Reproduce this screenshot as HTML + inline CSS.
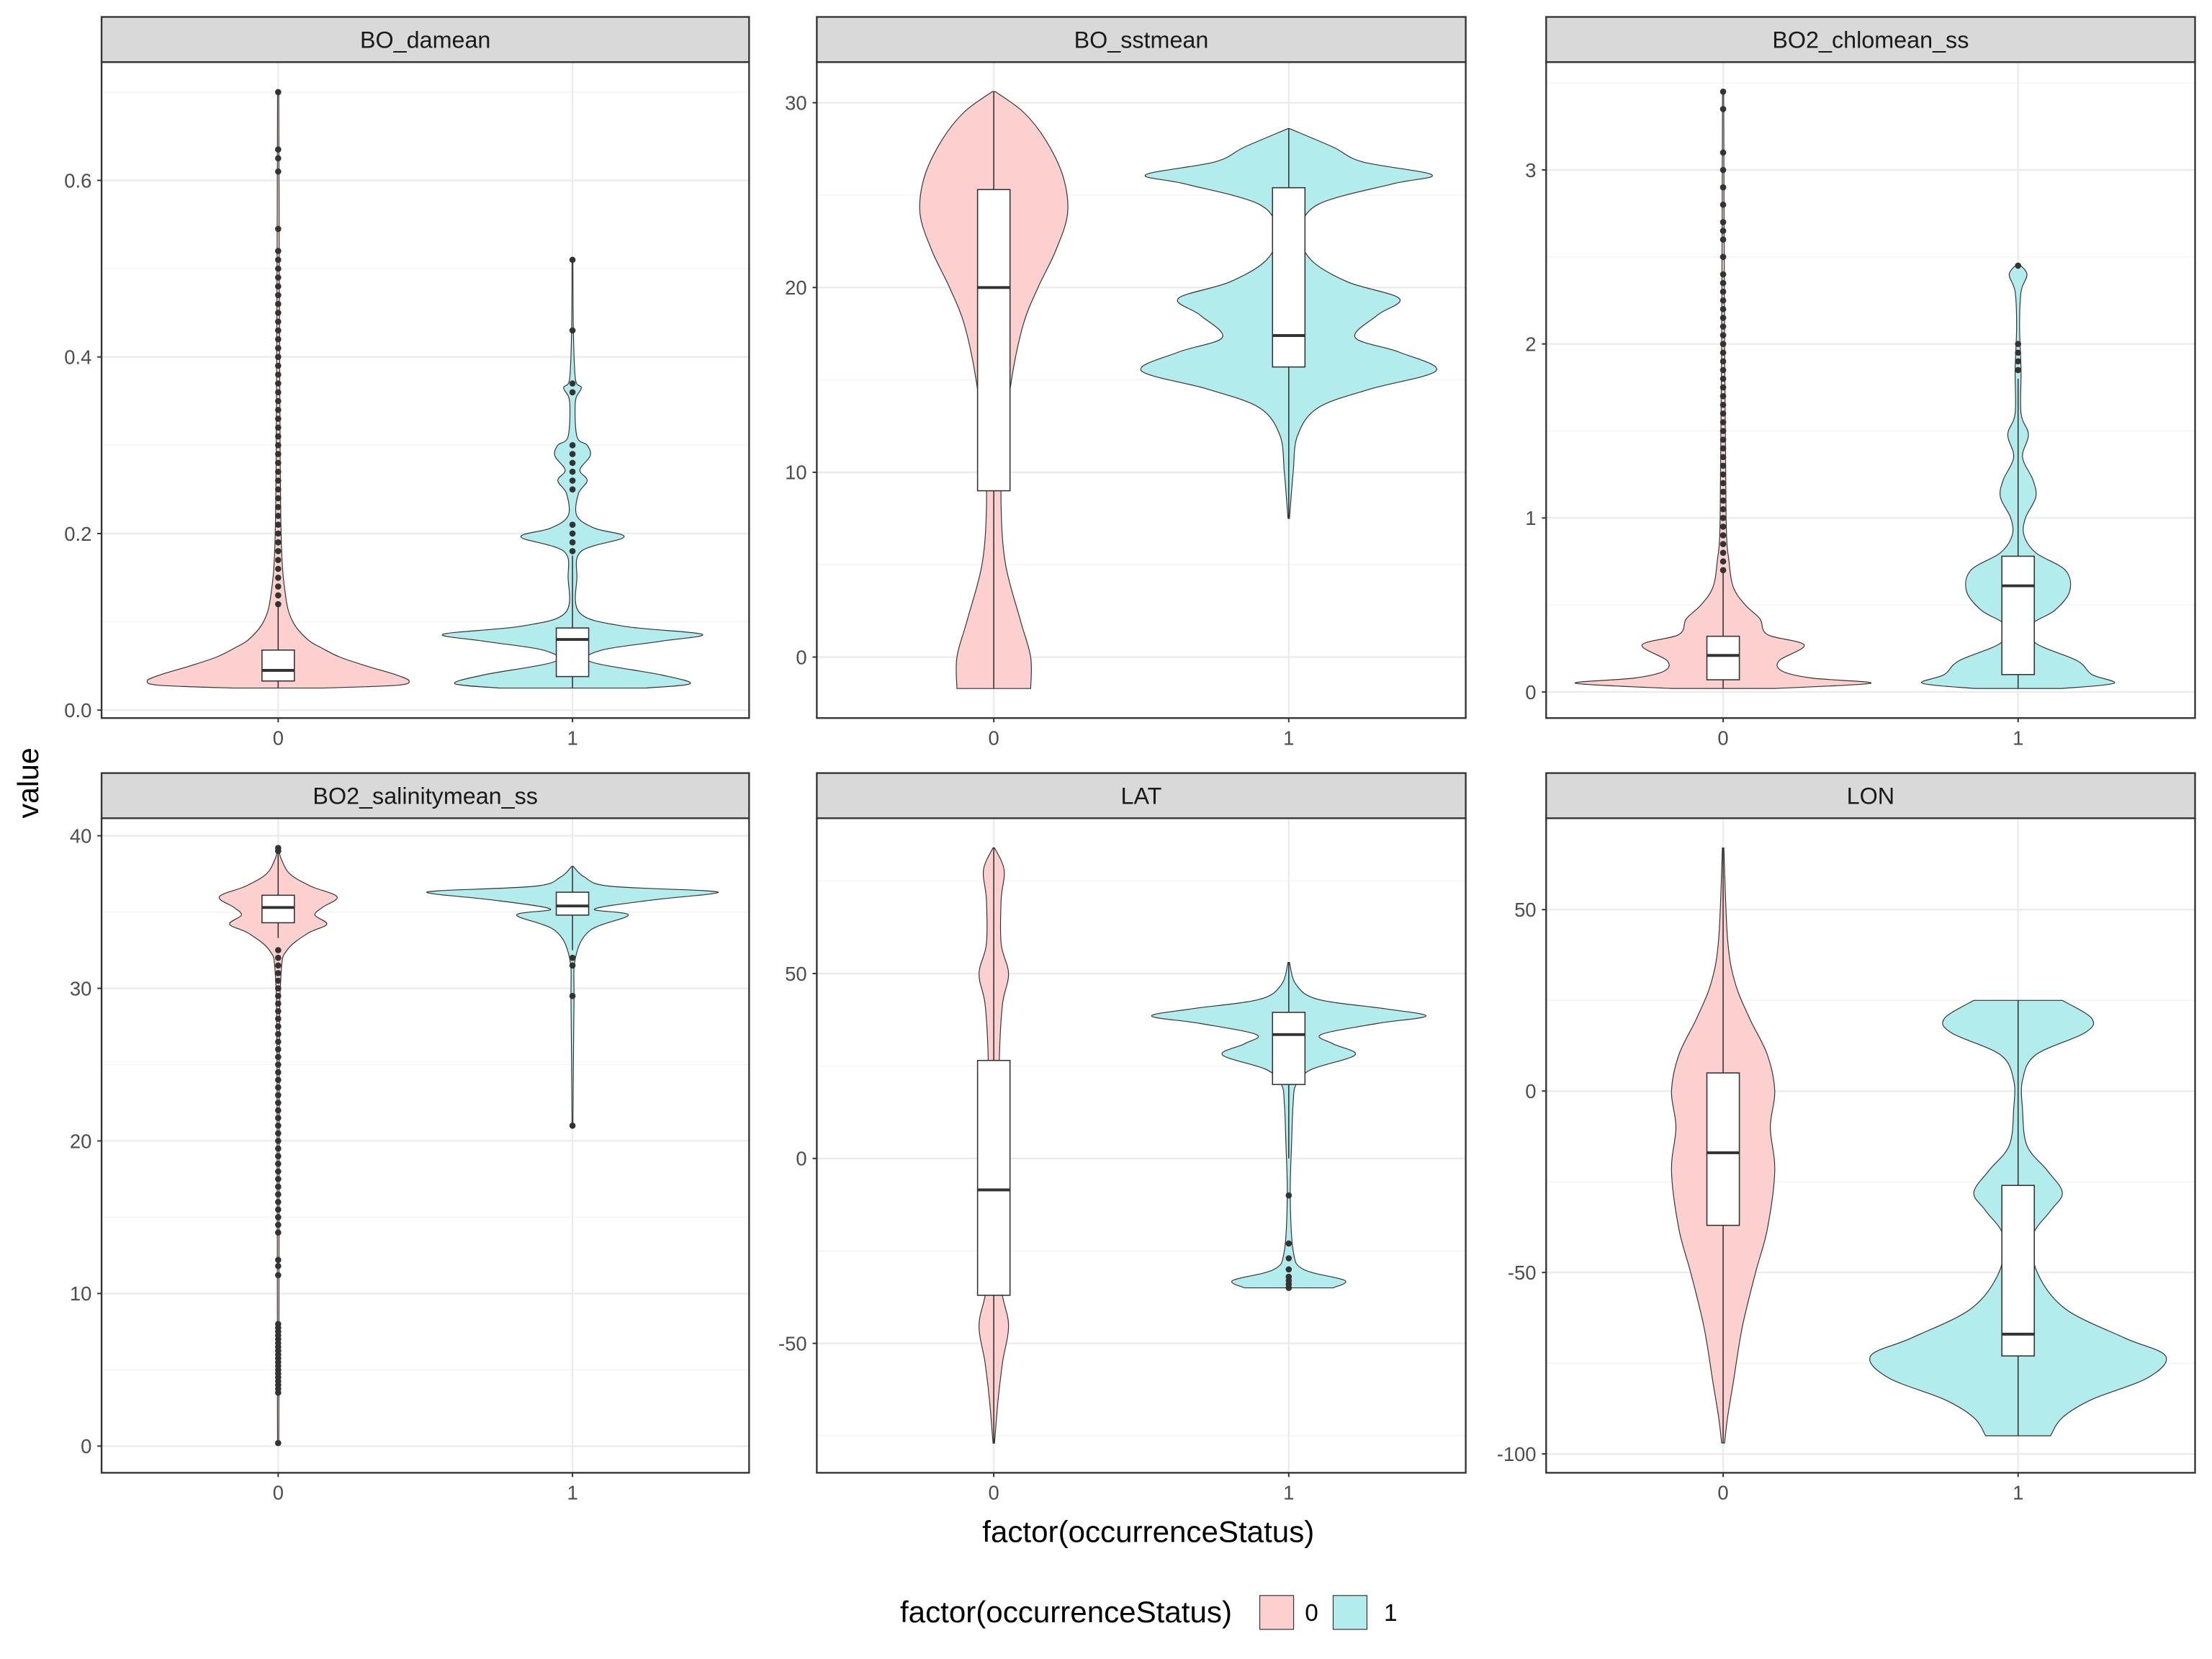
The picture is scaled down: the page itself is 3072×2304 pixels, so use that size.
<!DOCTYPE html>
<html><head><meta charset="utf-8"><style>
html,body{margin:0;padding:0;background:#fff}
svg{display:block}
text{font-family:"Liberation Sans",sans-serif}
</style></head><body>
<svg id="chart" width="3072" height="2304" viewBox="0 0 1568 1176" xmlns="http://www.w3.org/2000/svg">
<rect x="0" y="0" width="1568" height="1176" fill="#fff"/>
<g id="panels"></g>
<text x="27" y="555" transform="rotate(-90 27 555)" text-anchor="middle" font-size="21" fill="#000">value</text>
<text x="814" y="1093" text-anchor="middle" font-size="21.5" fill="#000">factor(occurrenceStatus)</text>
<g>
<text x="638" y="1150" font-size="21.5" fill="#000">factor(occurrenceStatus)</text>
<rect x="893" y="1131" width="24" height="24" fill="#FBD0CE" stroke="#333" stroke-width="0.6"/>
<text x="925" y="1149" font-size="17" fill="#000">0</text>
<rect x="945" y="1131" width="24" height="24" fill="#B2ECED" stroke="#333" stroke-width="0.6"/>
<text x="981" y="1149" font-size="17" fill="#000">1</text>
</g>
</svg>
<script>
const panelTitles = ["BO_damean","BO_sstmean","BO2_chlomean_ss","BO2_salinitymean_ss","LAT","LON"];
const panelDomains = [[-0.009,0.734],[-3.3,32.2],[-0.15,3.62],[-1.75,41.15],[-85,92],[-105.2,75.2]];
const panelTicks = [[0,0.2,0.4,0.6],[0,10,20,30],[0,1,2,3],[0,10,20,30,40],[-50,0,50],[-100,-50,0,50]];
const panelTickLabels = [["0.0","0.2","0.4","0.6"],["0","10","20","30"],["0","1","2","3"],["0","10","20","30","40"],["-50","0","50"],["-100","-50","0","50"]];
const categories = ["0","1"];
// violin density profiles: [value, relative half-width]
const violin0 = [
 [[0.025,0.3],[0.028,0.8],[0.033,0.89],[0.04,0.8],[0.05,0.6],[0.06,0.42],[0.07,0.3],[0.08,0.2],[0.1,0.1],[0.13,0.05],[0.2,0.02],[0.4,0.01],[0.7,0.004]],
 [[-1.7,0.25],[0,0.25],[2,0.18],[5,0.08],[8,0.05],[11,0.06],[15,0.12],[18,0.2],[20,0.3],[22,0.42],[24,0.5],[26,0.47],[28,0.35],[29.5,0.2],[30.6,0.01]],
 [[0.02,0.35],[0.05,1.0],[0.08,0.6],[0.12,0.4],[0.18,0.38],[0.27,0.55],[0.33,0.3],[0.42,0.25],[0.5,0.15],[0.6,0.07],[0.75,0.04],[1,0.02],[2,0.01],[3.45,0.004]],
 [[0.2,0.003],[3,0.005],[25,0.008],[31,0.02],[32.5,0.06],[33.6,0.2],[34.2,0.33],[34.8,0.25],[35.3,0.3],[36,0.4],[36.7,0.22],[37.5,0.08],[38.5,0.02],[39.2,0.003]],
 [[-77,0.005],[-65,0.03],[-55,0.06],[-45,0.1],[-35,0.05],[-20,0.04],[-5,0.035],[15,0.035],[30,0.04],[42,0.06],[50,0.1],[58,0.05],[70,0.05],[78,0.07],[84,0.005]],
 [[-97,0.01],[-90,0.03],[-80,0.07],[-65,0.13],[-50,0.22],[-38,0.3],[-22,0.35],[-10,0.32],[0,0.35],[10,0.3],[20,0.18],[30,0.08],[42,0.03],[67,0.005]]
];
const violin1 = [
 [[0.025,0.5],[0.03,0.8],[0.04,0.6],[0.055,0.12],[0.068,0.2],[0.078,0.6],[0.086,0.88],[0.095,0.35],[0.11,0.05],[0.15,0.03],[0.18,0.06],[0.196,0.35],[0.206,0.15],[0.22,0.03],[0.245,0.04],[0.26,0.1],[0.272,0.05],[0.288,0.12],[0.3,0.1],[0.31,0.03],[0.35,0.02],[0.365,0.06],[0.375,0.02],[0.43,0.006],[0.51,0.003]],
 [[7.5,0.005],[10,0.03],[12,0.06],[13.5,0.2],[14.5,0.55],[15.5,1.0],[16.5,0.75],[17.3,0.45],[18.5,0.6],[19.4,0.75],[20.3,0.4],[21.5,0.15],[23,0.08],[24.5,0.2],[25.6,0.7],[26.1,0.97],[26.8,0.5],[27.6,0.3],[28.6,0.005]],
 [[0.02,0.3],[0.05,0.65],[0.1,0.5],[0.18,0.4],[0.28,0.12],[0.38,0.08],[0.47,0.25],[0.58,0.35],[0.7,0.32],[0.8,0.12],[0.9,0.04],[1.0,0.05],[1.12,0.12],[1.22,0.1],[1.35,0.03],[1.48,0.07],[1.6,0.02],[1.85,0.02],[2.1,0.01],[2.3,0.02],[2.4,0.06],[2.46,0.005]],
 [[21,0.003],[29,0.01],[32,0.02],[33.8,0.12],[34.8,0.38],[35.2,0.15],[35.8,0.55],[36.2,0.95],[36.4,0.9],[36.7,0.25],[37.3,0.08],[38,0.005]],
 [[-35,0.3],[-33,0.38],[-30,0.1],[-25,0.03],[-10,0.01],[5,0.02],[15,0.03],[20,0.05],[24,0.15],[28,0.45],[31,0.3],[33.5,0.22],[36.5,0.6],[38.5,0.93],[40.5,0.65],[43,0.2],[47,0.05],[53,0.005]],
 [[-95,0.22],[-90,0.3],[-85,0.5],[-79,0.88],[-73,1.0],[-68,0.72],[-60,0.32],[-50,0.13],[-40,0.1],[-33,0.22],[-28,0.3],[-22,0.2],[-15,0.06],[-5,0.03],[3,0.03],[10,0.12],[16,0.45],[20,0.5],[25,0.3]]
];
// box stats: [lowerWhisker, q1, median, q3, upperWhisker]
const box0 = [[0.025,0.033,0.045,0.068,0.12],[-1.7,9,20,25.3,30.6],[0.02,0.07,0.21,0.32,0.7],[33.3,34.3,35.3,36.1,38.8],[-77,-37,-8.5,26.5,84],[-97,-37,-17,5,67]];
const box1 = [[0.025,0.038,0.08,0.093,0.175],[7.5,15.7,17.4,25.4,28.6],[0.02,0.1,0.61,0.78,1.8],[32.5,34.8,35.4,36.3,38],[0,20,33.5,39.5,53],[-95,-73,-67,-26,25]];
const outliers0 = [
 [0.12,0.13,0.14,0.15,0.16,0.17,0.18,0.19,0.2,0.21,0.22,0.23,0.24,0.25,0.26,0.27,0.28,0.29,0.3,0.31,0.32,0.33,0.34,0.35,0.36,0.37,0.38,0.39,0.4,0.41,0.42,0.43,0.44,0.45,0.46,0.47,0.48,0.49,0.5,0.51,0.52,0.545,0.61,0.625,0.635,0.7],
 [],
 [0.7,0.75,0.8,0.85,0.9,0.95,1.0,1.05,1.1,1.15,1.2,1.25,1.3,1.35,1.4,1.45,1.5,1.55,1.6,1.65,1.7,1.75,1.8,1.85,1.9,1.95,2.0,2.05,2.1,2.15,2.2,2.25,2.3,2.35,2.4,2.5,2.6,2.65,2.7,2.8,2.9,3.0,3.1,3.35,3.45],
 [0.2,3.5,3.75,4,4.25,4.5,4.75,5,5.25,5.5,5.75,6,6.25,6.5,6.75,7,7.25,7.5,7.75,8,11.2,11.8,12.2,14,14.5,15,15.5,16,16.5,17,17.5,18,18.5,19,19.5,20,20.5,21,21.5,22,22.5,23,23.5,24,24.5,25,25.5,26,26.5,27,27.5,28,28.5,29,29.5,30,30.5,31,31.5,32,32.5,39,39.2],
 [],
 []
];
const outliers1 = [
 [0.18,0.19,0.2,0.21,0.25,0.26,0.27,0.28,0.29,0.3,0.36,0.37,0.43,0.51],
 [],
 [1.85,1.9,1.95,2.0,2.45],
 [32,31.5,29.5,21],
 [-10,-23,-27,-30,-32,-33,-34,-35],
 []
];
const NS="http://www.w3.org/2000/svg";
const panelsG=document.getElementById('panels');
function mk(tag,attrs,parent){const e=document.createElementNS(NS,tag);for(const k in attrs)e.setAttribute(k,attrs[k]);parent.appendChild(e);return e;}
const colX=[72,579,1096], panelW=[459,460,460];
const rowStrip=[12,548], rowTop=[44,580], rowBot=[509,1044];
const fills=["#FBD0CE","#B2ECED"];
function smoothPath(pts){
  let d="M"+pts[0][0]+","+pts[0][1];
  for(let i=0;i<pts.length-1;i++){
    const p0=pts[Math.max(0,i-1)],p1=pts[i],p2=pts[i+1],p3=pts[Math.min(pts.length-1,i+2)];
    const c1=[p1[0]+(p2[0]-p0[0])/6,p1[1]+(p2[1]-p0[1])/6];
    const c2=[p2[0]-(p3[0]-p1[0])/6,p2[1]-(p3[1]-p1[1])/6];
    d+=" C"+c1[0].toFixed(2)+","+c1[1].toFixed(2)+" "+c2[0].toFixed(2)+","+c2[1].toFixed(2)+" "+p2[0].toFixed(2)+","+p2[1].toFixed(2);
  }
  return d;
}
for(let p=0;p<6;p++){
  const col=p%3,row=Math.floor(p/3);
  const x0=colX[col],w=panelW[col],top=rowTop[row],bot=rowBot[row];
  const dom=panelDomains[p];
  const yS=v=>bot-(v-dom[0])/(dom[1]-dom[0])*(bot-top);
  const xS=i=>x0+w*(0.6+i)/2.2;
  const unit=w/2.2;
  const g=mk('g',{},panelsG);
  
  
  const pr=mk('rect',{x:x0,y:top,width:w,height:bot-top,fill:'#fff'},g);
  
  
  const tk=panelTicks[p];
  const step=tk[1]-tk[0];
  for(let v=tk[0]-step/2;v<=dom[1];v+=step){
    if(v<dom[0])continue;
    const l=mk('line',{x1:x0,x2:x0+w,y1:yS(v),y2:yS(v),stroke:'#f2f2f2','stroke-width':0.6},g);
    
    
  }
  tk.forEach((v,i)=>{
    const l=mk('line',{x1:x0,x2:x0+w,y1:yS(v),y2:yS(v),stroke:'#ebebeb','stroke-width':1.2},g);
    
    
    const t=mk('line',{x1:x0-3,x2:x0,y1:yS(v),y2:yS(v),stroke:'#333','stroke-width':1},g);
    
    
    const tx=mk('text',{x:x0-7,y:yS(v)+5,'text-anchor':'end','font-size':14,fill:'#4d4d4d'},g);
    tx.textContent=panelTickLabels[p][i];
    
    
  });
  categories.forEach((c,i)=>{
    const l=mk('line',{x1:xS(i),x2:xS(i),y1:top,y2:bot,stroke:'#ebebeb','stroke-width':1.2},g);
    
    
    const t=mk('line',{x1:xS(i),x2:xS(i),y1:bot,y2:bot+3,stroke:'#333','stroke-width':1},g);
    
    
    const tx=mk('text',{x:xS(i),y:bot+19,'text-anchor':'middle','font-size':14,fill:'#4d4d4d'},g);
    tx.textContent=c;
    
    
  });
  [violin0[p],violin1[p]].forEach((prof,i)=>{
    const cx=xS(i);
    const right=prof.map(d=>[cx+d[1]*unit*0.5,yS(d[0])]);
    const left=prof.slice().reverse().map(d=>[cx-d[1]*unit*0.5,yS(d[0])]);
    let d=smoothPath(right);
    d+=" L"+left[0][0].toFixed(2)+","+left[0][1].toFixed(2)+smoothPath(left).replace(/^M[^ C]+/,"")+" Z";
    const v=mk('path',{d:d,fill:fills[i],stroke:'#333','stroke-width':0.6},g);
    
    
  });
  [box0[p],box1[p]].forEach((b,i)=>{
    const cx=xS(i),hw=unit*0.055;
    const bg=mk('g',{},g);
    
    
    mk('line',{x1:cx,x2:cx,y1:yS(b[0]),y2:yS(b[4]),stroke:'#333','stroke-width':0.8},bg);
    mk('rect',{x:cx-hw,y:yS(b[3]),width:hw*2,height:yS(b[1])-yS(b[3]),fill:'#fff',stroke:'#333','stroke-width':0.8},bg);
    mk('line',{x1:cx-hw,x2:cx+hw,y1:yS(b[2]),y2:yS(b[2]),stroke:'#333','stroke-width':2},bg);
  });
  [outliers0[p],outliers1[p]].forEach((arr,i)=>{
    arr.forEach(v=>{
      const c=mk('circle',{cx:xS(i),cy:yS(v),r:2.2,fill:'#333'},g);
      
      
    });
  });
  const br=mk('rect',{x:x0,y:top,width:w,height:bot-top,fill:'none',stroke:'#333','stroke-width':1.2},g);
  
  
  const sr=mk('rect',{x:x0,y:rowStrip[row],width:w,height:top-rowStrip[row],fill:'#d9d9d9',stroke:'#333','stroke-width':1.2},g);
  
  
  const st=mk('text',{x:x0+w/2,y:rowStrip[row]+22,'text-anchor':'middle','font-size':16.5,fill:'#1a1a1a'},g);
  st.textContent=panelTitles[p];
  
  
}
</script>
</body></html>
